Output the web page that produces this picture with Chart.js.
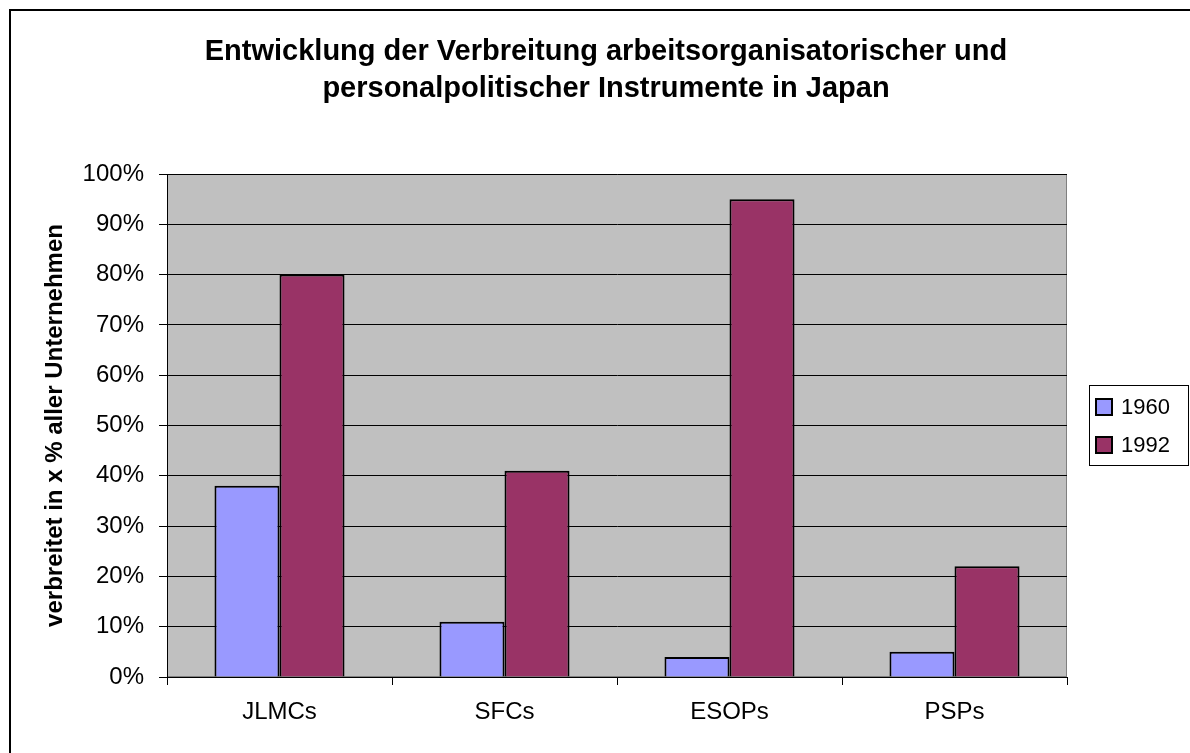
<!DOCTYPE html>
<html>
<head>
<meta charset="utf-8">
<script src="https://cdn.jsdelivr.net/npm/chart.js@4"></script>
<style>
html,body{margin:0;padding:0;background:#fff;}
#wrap{width:1190px;height:753px;position:relative;}
</style>
</head>
<body>
<div id="wrap"><canvas id="c" width="1190" height="753"></canvas></div>
<script>
const titleLines = ["Entwicklung der Verbreitung arbeitsorganisatorischer und", "personalpolitischer Instrumente in Japan"];
const yAxisTitle = "verbreitet in x % aller Unternehmen";
const categories = ["JLMCs", "SFCs", "ESOPs", "PSPs"];
const seriesNames = ["1960", "1992"];
const values1960 = [38, 11, 4, 5];
const values1992 = [80, 41, 95, 22];
const seriesColors = ["#9999FF", "#993366"];

const FONT = "'Liberation Sans', Arial, sans-serif";

const framePlugin = {
  id: 'frame',
  beforeDraw(chart) {
    const ctx = chart.ctx, a = chart.chartArea;
    ctx.save();
    ctx.fillStyle = '#fff';
    ctx.fillRect(0, 0, chart.width, chart.height);
    ctx.strokeStyle = '#000';
    ctx.lineWidth = 2;
    ctx.beginPath();
    ctx.moveTo(10, chart.height + 5);
    ctx.lineTo(10, 10);
    ctx.lineTo(chart.width + 5, 10);
    ctx.stroke();
    ctx.fillStyle = '#C0C0C0';
    ctx.fillRect(a.left, a.top, a.right - a.left, a.bottom - a.top);
    ctx.strokeStyle = '#808080';
    ctx.lineWidth = 1;
    ctx.strokeRect(a.left + 0.5, a.top + 0.5, a.right - a.left - 1, a.bottom - a.top - 1);
    ctx.restore();
  },
  afterDraw(chart) {
    const ctx = chart.ctx;
    ctx.save();
    ctx.fillStyle = '#000';
    ctx.font = 'bold 29px ' + FONT;
    ctx.textAlign = 'center';
    ctx.textBaseline = 'middle';
    ctx.fillText(titleLines[0], 606, 52);
    ctx.fillText(titleLines[1], 606, 89);
    const bx = 1089, by = 385, bw = 100, bh = 81;
    ctx.fillStyle = '#fff';
    ctx.fillRect(bx, by, bw, bh);
    ctx.strokeStyle = '#000';
    ctx.lineWidth = 1;
    ctx.strokeRect(bx + 0.5, by + 0.5, bw - 1, bh - 1);
    ctx.font = '22px ' + FONT;
    ctx.textAlign = 'left';
    chart.data.datasets.forEach((ds, i) => {
      const cy = 407 + i * 38;
      ctx.fillStyle = ds.backgroundColor;
      ctx.fillRect(1096, cy - 8, 16, 16);
      ctx.strokeStyle = '#000';
      ctx.lineWidth = 2;
      ctx.strokeRect(1096, cy - 8, 16, 16);
      ctx.fillStyle = '#000';
      ctx.fillText(ds.label, 1121, cy + 1);
    });
    ctx.restore();
  }
};

new Chart(document.getElementById('c'), {
  type: 'bar',
  data: {
    labels: categories,
    datasets: [
      { label: seriesNames[0], data: values1960, backgroundColor: seriesColors[0], borderColor: '#000', borderWidth: 2 },
      { label: seriesNames[1], data: values1992, backgroundColor: seriesColors[1], borderColor: '#000', borderWidth: 2 }
    ]
  },
  options: {
    responsive: false,
    animation: false,
    devicePixelRatio: 1,
    layout: { padding: { left: 10, top: 174, right: 123, bottom: 0 } },
    datasets: { bar: { barPercentage: 1, categoryPercentage: 0.578 } },
    plugins: { legend: { display: false }, title: { display: false }, tooltip: { enabled: false } },
    scales: {
      x: {
        afterFit(s) { s.height = 76; },
        grid: { offset: true, drawOnChartArea: false, color: '#000', tickLength: 8, lineWidth: 1 },
        border: { color: '#000', width: 1 },
        ticks: { color: '#000', font: { family: FONT, size: 24 }, padding: 13 }
      },
      y: {
        min: 0, max: 100,
        afterFit(s) { s.width = 157; },
        grid: { color: '#000', tickLength: 8, lineWidth: 1 },
        border: { color: '#000', width: 1 },
        ticks: { stepSize: 10, color: '#000', font: { family: FONT, size: 24 }, padding: 15, callback: v => v + '%' },
        title: { display: true, text: yAxisTitle, color: '#000', font: { family: FONT, size: 24, weight: 'bold' }, padding: { top: 31, bottom: 0 } }
      }
    }
  },
  plugins: [framePlugin]
});
</script>
</body>
</html>
